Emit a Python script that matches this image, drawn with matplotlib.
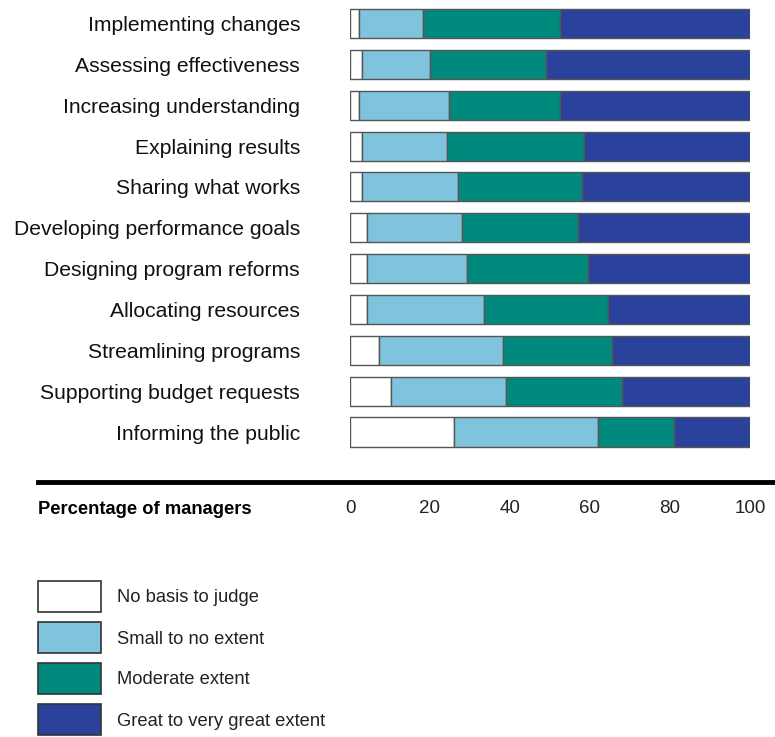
import numpy as np
import matplotlib.pyplot as plt
from matplotlib.patches import Rectangle
from matplotlib.lines import Line2D

######################### Data #############################

categories = ["Implementing changes", "Assessing effectiveness", "Increasing understanding",
              "Explaining results", "Sharing what works", "Developing performance goals",
              "Designing program reforms", "Allocating resources", "Streamlining programs",
              "Supporting budget requests", "Informing the public"]
no_basis = [2.2, 3.1, 2.2, 3.1, 3.1, 4.2, 4.2, 4.2, 7.3, 10.2, 26.1]
small    = [16.0, 17.0, 22.6, 21.2, 24.0, 23.8, 25.1, 29.3, 31.0, 28.7, 35.8]
moderate = [34.3, 28.9, 27.7, 34.3, 31.0, 29.0, 30.2, 31.1, 27.3, 29.2, 19.0]
great    = [47.5, 51.0, 47.5, 41.4, 41.9, 43.0, 40.5, 35.4, 34.4, 31.9, 19.1]
series_names = ["No basis to judge", "Small to no extent", "Moderate extent",
                "Great to very great extent"]
colors = ["#ffffff", "#7fc4dc", "#008a7e", "#2b429c"]
xticks = [0, 20, 40, 60, 80, 100]

######################### Layout helpers ###################

W, H = 775, 737
font = ["Liberation Sans", "DejaVu Sans"]
plt.rcParams['font.family'] = font

def fx(px):
    return px / W

def fy(py):
    return 1 - py / H

fig = plt.figure(figsize=(W / 100, H / 100), dpi=100)

# axes: x 350..750 px, y 0..482 px
ax = fig.add_axes([fx(350), fy(482), fx(400), 482 / H])
row_gap = 40.85
first_center = 23.5
y_top = -first_center / row_gap
y_bot = (482 - first_center) / row_gap

ypos = np.arange(len(categories))
left = np.zeros(len(categories))
for vals, col in zip([no_basis, small, moderate, great], colors):
    ax.barh(ypos, vals, left=left, height=0.71, color=col,
            edgecolor="#555555", linewidth=1.0)
    left += np.array(vals)

ax.set_xlim(0, 100)
ax.set_ylim(y_bot, y_top)
for s in ax.spines.values():
    s.set_visible(False)

ax.set_yticks(ypos)
ax.set_yticklabels(categories, fontsize=15.2, color="#111111")
ax.tick_params(axis="y", length=0, pad=36)
ax.set_xticks(xticks)
ax.set_xticklabels([str(t) for t in xticks], fontsize=13.5, color="#222222")
ax.tick_params(axis="x", length=0, pad=13)

# thick rule across the figure
fig.add_artist(Line2D([fx(38), fx(775)], [fy(482), fy(482)], color="black",
                      linewidth=3.5, transform=fig.transFigure))
fig.text(fx(38), fy(510), "Percentage of managers", fontsize=13.2, fontweight="bold",
         ha="left", va="center")

# legend boxes
box_tops = [581, 622, 663, 704]
for top, col, name in zip(box_tops, colors, series_names):
    fig.add_artist(Rectangle((fx(38), fy(top + 31)), fx(63), 31 / H,
                             facecolor=col, edgecolor="#333333", linewidth=1.2,
                             transform=fig.transFigure))
    fig.text(fx(117), fy(top + 17), name, fontsize=13.2, color="#222222",
             ha="left", va="center")

fig.savefig("out.png", dpi=100)
